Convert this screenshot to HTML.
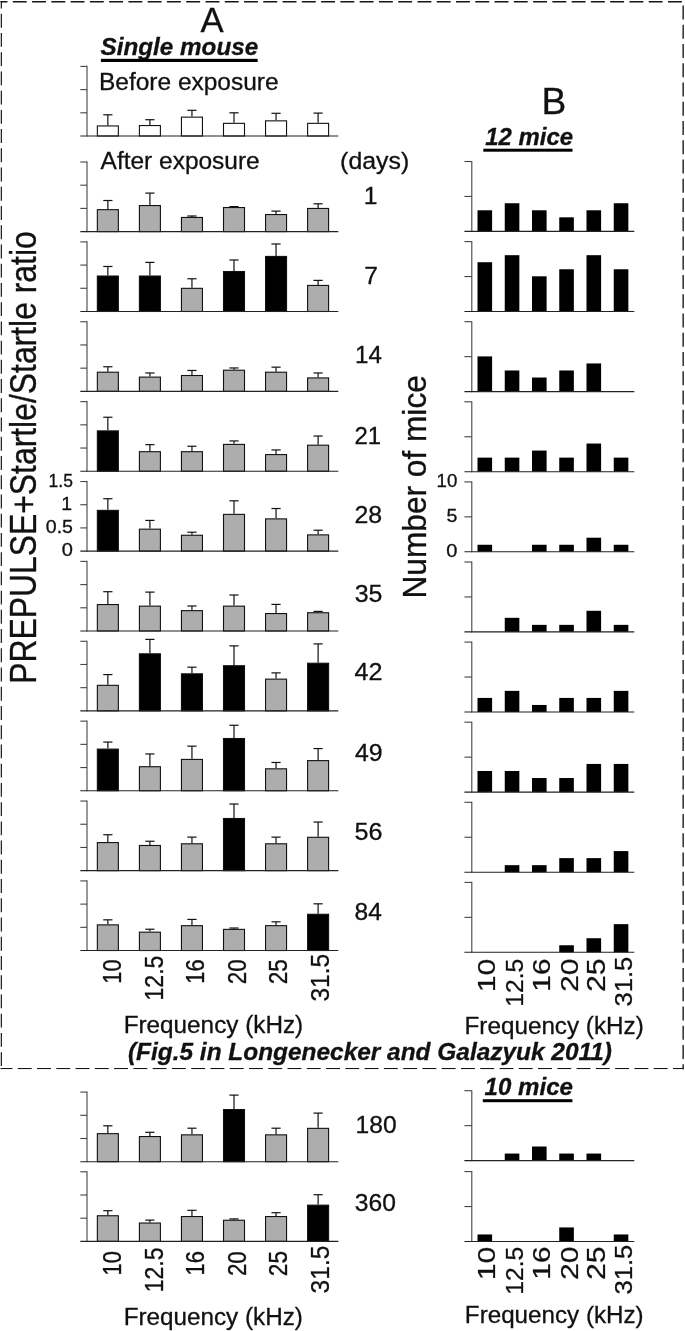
<!DOCTYPE html>
<html><head><meta charset="utf-8"><title>Figure</title>
<style>html,body{margin:0;padding:0;background:#fff}svg{display:block}</style></head>
<body><svg width="685" height="1331" viewBox="0 0 685 1331" font-family="'Liberation Sans', sans-serif" fill="#111" stroke="#111" stroke-width="0.3"><clipPath id="bc"><rect x="0.5" y="1" width="683.4" height="1068.3"/></clipPath><g clip-path="url(#bc)">
<line x1="-6.47" y1="1.75" x2="700.00" y2="1.75" stroke="#151515" stroke-width="1.45" stroke-dasharray="13.9 5.37"/>
<line x1="1.20" y1="-5.50" x2="1.20" y2="1100.00" stroke="#151515" stroke-width="1.45" stroke-dasharray="13.9 5.33"/>
<line x1="-1.50" y1="1068.60" x2="700.00" y2="1068.60" stroke="#151515" stroke-width="1.45" stroke-dasharray="13.9 5.37"/>
<line x1="683.20" y1="-13.75" x2="683.20" y2="1100.00" stroke="#151515" stroke-width="1.45" stroke-dasharray="13.9 5.35"/>
</g>
<line x1="107.85" y1="114.80" x2="107.85" y2="125.40" stroke="#111" stroke-width="1.2"/>
<line x1="103.25" y1="114.80" x2="112.45" y2="114.80" stroke="#111" stroke-width="1.2"/>
<rect x="97.35" y="125.95" width="21.00" height="10.05" fill="#fff" stroke="#111" stroke-width="1.1"/>
<line x1="149.90" y1="119.70" x2="149.90" y2="125.00" stroke="#111" stroke-width="1.2"/>
<line x1="145.30" y1="119.70" x2="154.50" y2="119.70" stroke="#111" stroke-width="1.2"/>
<rect x="139.40" y="125.55" width="21.00" height="10.45" fill="#fff" stroke="#111" stroke-width="1.1"/>
<line x1="191.95" y1="110.30" x2="191.95" y2="116.60" stroke="#111" stroke-width="1.2"/>
<line x1="187.35" y1="110.30" x2="196.55" y2="110.30" stroke="#111" stroke-width="1.2"/>
<rect x="181.45" y="117.15" width="21.00" height="18.85" fill="#fff" stroke="#111" stroke-width="1.1"/>
<line x1="234.00" y1="112.80" x2="234.00" y2="122.80" stroke="#111" stroke-width="1.2"/>
<line x1="229.40" y1="112.80" x2="238.60" y2="112.80" stroke="#111" stroke-width="1.2"/>
<rect x="223.50" y="123.35" width="21.00" height="12.65" fill="#fff" stroke="#111" stroke-width="1.1"/>
<line x1="276.05" y1="113.30" x2="276.05" y2="120.30" stroke="#111" stroke-width="1.2"/>
<line x1="271.45" y1="113.30" x2="280.65" y2="113.30" stroke="#111" stroke-width="1.2"/>
<rect x="265.55" y="120.85" width="21.00" height="15.15" fill="#fff" stroke="#111" stroke-width="1.1"/>
<line x1="318.10" y1="113.10" x2="318.10" y2="122.80" stroke="#111" stroke-width="1.2"/>
<line x1="313.50" y1="113.10" x2="322.70" y2="113.10" stroke="#111" stroke-width="1.2"/>
<rect x="307.60" y="123.35" width="21.00" height="12.65" fill="#fff" stroke="#111" stroke-width="1.1"/>
<line x1="87.00" y1="65.85" x2="87.00" y2="136.55" stroke="#444" stroke-width="1.1"/>
<line x1="80.30" y1="136.00" x2="338.30" y2="136.00" stroke="#222" stroke-width="1.1"/>
<line x1="80.30" y1="112.80" x2="87.00" y2="112.80" stroke="#444" stroke-width="1.1"/>
<line x1="80.30" y1="89.60" x2="87.00" y2="89.60" stroke="#444" stroke-width="1.1"/>
<line x1="80.30" y1="66.40" x2="87.00" y2="66.40" stroke="#444" stroke-width="1.1"/>
<line x1="107.85" y1="200.50" x2="107.85" y2="209.10" stroke="#111" stroke-width="1.2"/>
<line x1="103.25" y1="200.50" x2="112.45" y2="200.50" stroke="#111" stroke-width="1.2"/>
<rect x="97.35" y="209.65" width="21.00" height="21.95" fill="#adadad" stroke="#111" stroke-width="1.1"/>
<line x1="149.90" y1="193.10" x2="149.90" y2="205.00" stroke="#111" stroke-width="1.2"/>
<line x1="145.30" y1="193.10" x2="154.50" y2="193.10" stroke="#111" stroke-width="1.2"/>
<rect x="139.40" y="205.55" width="21.00" height="26.05" fill="#adadad" stroke="#111" stroke-width="1.1"/>
<line x1="191.95" y1="216.00" x2="191.95" y2="216.90" stroke="#111" stroke-width="1.2"/>
<line x1="187.35" y1="216.00" x2="196.55" y2="216.00" stroke="#111" stroke-width="1.2"/>
<rect x="181.45" y="217.45" width="21.00" height="14.15" fill="#adadad" stroke="#111" stroke-width="1.1"/>
<line x1="234.00" y1="206.60" x2="234.00" y2="207.00" stroke="#111" stroke-width="1.2"/>
<line x1="229.40" y1="206.60" x2="238.60" y2="206.60" stroke="#111" stroke-width="1.2"/>
<rect x="223.50" y="207.55" width="21.00" height="24.05" fill="#adadad" stroke="#111" stroke-width="1.1"/>
<line x1="276.05" y1="211.10" x2="276.05" y2="214.00" stroke="#111" stroke-width="1.2"/>
<line x1="271.45" y1="211.10" x2="280.65" y2="211.10" stroke="#111" stroke-width="1.2"/>
<rect x="265.55" y="214.55" width="21.00" height="17.05" fill="#adadad" stroke="#111" stroke-width="1.1"/>
<line x1="318.10" y1="203.80" x2="318.10" y2="207.90" stroke="#111" stroke-width="1.2"/>
<line x1="313.50" y1="203.80" x2="322.70" y2="203.80" stroke="#111" stroke-width="1.2"/>
<rect x="307.60" y="208.45" width="21.00" height="23.15" fill="#adadad" stroke="#111" stroke-width="1.1"/>
<line x1="87.00" y1="161.45" x2="87.00" y2="232.15" stroke="#444" stroke-width="1.1"/>
<line x1="80.30" y1="231.60" x2="338.30" y2="231.60" stroke="#222" stroke-width="1.1"/>
<line x1="80.30" y1="208.40" x2="87.00" y2="208.40" stroke="#444" stroke-width="1.1"/>
<line x1="80.30" y1="185.20" x2="87.00" y2="185.20" stroke="#444" stroke-width="1.1"/>
<line x1="80.30" y1="162.00" x2="87.00" y2="162.00" stroke="#444" stroke-width="1.1"/>
<line x1="107.85" y1="266.48" x2="107.85" y2="275.48" stroke="#111" stroke-width="1.2"/>
<line x1="103.25" y1="266.48" x2="112.45" y2="266.48" stroke="#111" stroke-width="1.2"/>
<rect x="97.35" y="276.03" width="21.00" height="35.45" fill="#000" stroke="#111" stroke-width="1.1"/>
<line x1="149.90" y1="262.38" x2="149.90" y2="275.48" stroke="#111" stroke-width="1.2"/>
<line x1="145.30" y1="262.38" x2="154.50" y2="262.38" stroke="#111" stroke-width="1.2"/>
<rect x="139.40" y="276.03" width="21.00" height="35.45" fill="#000" stroke="#111" stroke-width="1.1"/>
<line x1="191.95" y1="278.78" x2="191.95" y2="287.78" stroke="#111" stroke-width="1.2"/>
<line x1="187.35" y1="278.78" x2="196.55" y2="278.78" stroke="#111" stroke-width="1.2"/>
<rect x="181.45" y="288.33" width="21.00" height="23.15" fill="#adadad" stroke="#111" stroke-width="1.1"/>
<line x1="234.00" y1="259.98" x2="234.00" y2="270.98" stroke="#111" stroke-width="1.2"/>
<line x1="229.40" y1="259.98" x2="238.60" y2="259.98" stroke="#111" stroke-width="1.2"/>
<rect x="223.50" y="271.53" width="21.00" height="39.95" fill="#000" stroke="#111" stroke-width="1.1"/>
<line x1="276.05" y1="243.98" x2="276.05" y2="255.88" stroke="#111" stroke-width="1.2"/>
<line x1="271.45" y1="243.98" x2="280.65" y2="243.98" stroke="#111" stroke-width="1.2"/>
<rect x="265.55" y="256.43" width="21.00" height="55.05" fill="#000" stroke="#111" stroke-width="1.1"/>
<line x1="318.10" y1="280.38" x2="318.10" y2="284.88" stroke="#111" stroke-width="1.2"/>
<line x1="313.50" y1="280.38" x2="322.70" y2="280.38" stroke="#111" stroke-width="1.2"/>
<rect x="307.60" y="285.43" width="21.00" height="26.05" fill="#adadad" stroke="#111" stroke-width="1.1"/>
<line x1="87.00" y1="241.33" x2="87.00" y2="312.03" stroke="#444" stroke-width="1.1"/>
<line x1="80.30" y1="311.48" x2="338.30" y2="311.48" stroke="#222" stroke-width="1.1"/>
<line x1="80.30" y1="288.28" x2="87.00" y2="288.28" stroke="#444" stroke-width="1.1"/>
<line x1="80.30" y1="265.08" x2="87.00" y2="265.08" stroke="#444" stroke-width="1.1"/>
<line x1="80.30" y1="241.88" x2="87.00" y2="241.88" stroke="#444" stroke-width="1.1"/>
<line x1="107.85" y1="366.76" x2="107.85" y2="371.66" stroke="#111" stroke-width="1.2"/>
<line x1="103.25" y1="366.76" x2="112.45" y2="366.76" stroke="#111" stroke-width="1.2"/>
<rect x="97.35" y="372.21" width="21.00" height="19.15" fill="#adadad" stroke="#111" stroke-width="1.1"/>
<line x1="149.90" y1="372.96" x2="149.90" y2="376.56" stroke="#111" stroke-width="1.2"/>
<line x1="145.30" y1="372.96" x2="154.50" y2="372.96" stroke="#111" stroke-width="1.2"/>
<rect x="139.40" y="377.11" width="21.00" height="14.25" fill="#adadad" stroke="#111" stroke-width="1.1"/>
<line x1="191.95" y1="370.46" x2="191.95" y2="374.96" stroke="#111" stroke-width="1.2"/>
<line x1="187.35" y1="370.46" x2="196.55" y2="370.46" stroke="#111" stroke-width="1.2"/>
<rect x="181.45" y="375.51" width="21.00" height="15.85" fill="#adadad" stroke="#111" stroke-width="1.1"/>
<line x1="234.00" y1="367.96" x2="234.00" y2="369.66" stroke="#111" stroke-width="1.2"/>
<line x1="229.40" y1="367.96" x2="238.60" y2="367.96" stroke="#111" stroke-width="1.2"/>
<rect x="223.50" y="370.21" width="21.00" height="21.15" fill="#adadad" stroke="#111" stroke-width="1.1"/>
<line x1="276.05" y1="367.16" x2="276.05" y2="371.66" stroke="#111" stroke-width="1.2"/>
<line x1="271.45" y1="367.16" x2="280.65" y2="367.16" stroke="#111" stroke-width="1.2"/>
<rect x="265.55" y="372.21" width="21.00" height="19.15" fill="#adadad" stroke="#111" stroke-width="1.1"/>
<line x1="318.10" y1="372.96" x2="318.10" y2="377.36" stroke="#111" stroke-width="1.2"/>
<line x1="313.50" y1="372.96" x2="322.70" y2="372.96" stroke="#111" stroke-width="1.2"/>
<rect x="307.60" y="377.91" width="21.00" height="13.45" fill="#adadad" stroke="#111" stroke-width="1.1"/>
<line x1="87.00" y1="321.21" x2="87.00" y2="391.91" stroke="#444" stroke-width="1.1"/>
<line x1="80.30" y1="391.36" x2="338.30" y2="391.36" stroke="#222" stroke-width="1.1"/>
<line x1="80.30" y1="368.16" x2="87.00" y2="368.16" stroke="#444" stroke-width="1.1"/>
<line x1="80.30" y1="344.96" x2="87.00" y2="344.96" stroke="#444" stroke-width="1.1"/>
<line x1="80.30" y1="321.76" x2="87.00" y2="321.76" stroke="#444" stroke-width="1.1"/>
<line x1="107.85" y1="417.24" x2="107.85" y2="430.34" stroke="#111" stroke-width="1.2"/>
<line x1="103.25" y1="417.24" x2="112.45" y2="417.24" stroke="#111" stroke-width="1.2"/>
<rect x="97.35" y="430.89" width="21.00" height="40.35" fill="#000" stroke="#111" stroke-width="1.1"/>
<line x1="149.90" y1="444.64" x2="149.90" y2="451.14" stroke="#111" stroke-width="1.2"/>
<line x1="145.30" y1="444.64" x2="154.50" y2="444.64" stroke="#111" stroke-width="1.2"/>
<rect x="139.40" y="451.69" width="21.00" height="19.55" fill="#adadad" stroke="#111" stroke-width="1.1"/>
<line x1="191.95" y1="446.24" x2="191.95" y2="451.14" stroke="#111" stroke-width="1.2"/>
<line x1="187.35" y1="446.24" x2="196.55" y2="446.24" stroke="#111" stroke-width="1.2"/>
<rect x="181.45" y="451.69" width="21.00" height="19.55" fill="#adadad" stroke="#111" stroke-width="1.1"/>
<line x1="234.00" y1="440.94" x2="234.00" y2="443.84" stroke="#111" stroke-width="1.2"/>
<line x1="229.40" y1="440.94" x2="238.60" y2="440.94" stroke="#111" stroke-width="1.2"/>
<rect x="223.50" y="444.39" width="21.00" height="26.85" fill="#adadad" stroke="#111" stroke-width="1.1"/>
<line x1="276.05" y1="449.94" x2="276.05" y2="454.04" stroke="#111" stroke-width="1.2"/>
<line x1="271.45" y1="449.94" x2="280.65" y2="449.94" stroke="#111" stroke-width="1.2"/>
<rect x="265.55" y="454.59" width="21.00" height="16.65" fill="#adadad" stroke="#111" stroke-width="1.1"/>
<line x1="318.10" y1="436.04" x2="318.10" y2="444.64" stroke="#111" stroke-width="1.2"/>
<line x1="313.50" y1="436.04" x2="322.70" y2="436.04" stroke="#111" stroke-width="1.2"/>
<rect x="307.60" y="445.19" width="21.00" height="26.05" fill="#adadad" stroke="#111" stroke-width="1.1"/>
<line x1="87.00" y1="401.09" x2="87.00" y2="471.79" stroke="#444" stroke-width="1.1"/>
<line x1="80.30" y1="471.24" x2="338.30" y2="471.24" stroke="#222" stroke-width="1.1"/>
<line x1="80.30" y1="448.04" x2="87.00" y2="448.04" stroke="#444" stroke-width="1.1"/>
<line x1="80.30" y1="424.84" x2="87.00" y2="424.84" stroke="#444" stroke-width="1.1"/>
<line x1="80.30" y1="401.64" x2="87.00" y2="401.64" stroke="#444" stroke-width="1.1"/>
<line x1="107.85" y1="498.72" x2="107.85" y2="509.82" stroke="#111" stroke-width="1.2"/>
<line x1="103.25" y1="498.72" x2="112.45" y2="498.72" stroke="#111" stroke-width="1.2"/>
<rect x="97.35" y="510.37" width="21.00" height="40.75" fill="#000" stroke="#111" stroke-width="1.1"/>
<line x1="149.90" y1="520.42" x2="149.90" y2="528.62" stroke="#111" stroke-width="1.2"/>
<line x1="145.30" y1="520.42" x2="154.50" y2="520.42" stroke="#111" stroke-width="1.2"/>
<rect x="139.40" y="529.17" width="21.00" height="21.95" fill="#adadad" stroke="#111" stroke-width="1.1"/>
<line x1="191.95" y1="532.22" x2="191.95" y2="534.72" stroke="#111" stroke-width="1.2"/>
<line x1="187.35" y1="532.22" x2="196.55" y2="532.22" stroke="#111" stroke-width="1.2"/>
<rect x="181.45" y="535.27" width="21.00" height="15.85" fill="#adadad" stroke="#111" stroke-width="1.1"/>
<line x1="234.00" y1="500.82" x2="234.00" y2="513.82" stroke="#111" stroke-width="1.2"/>
<line x1="229.40" y1="500.82" x2="238.60" y2="500.82" stroke="#111" stroke-width="1.2"/>
<rect x="223.50" y="514.37" width="21.00" height="36.75" fill="#adadad" stroke="#111" stroke-width="1.1"/>
<line x1="276.05" y1="508.52" x2="276.05" y2="518.32" stroke="#111" stroke-width="1.2"/>
<line x1="271.45" y1="508.52" x2="280.65" y2="508.52" stroke="#111" stroke-width="1.2"/>
<rect x="265.55" y="518.87" width="21.00" height="32.25" fill="#adadad" stroke="#111" stroke-width="1.1"/>
<line x1="318.10" y1="530.22" x2="318.10" y2="534.32" stroke="#111" stroke-width="1.2"/>
<line x1="313.50" y1="530.22" x2="322.70" y2="530.22" stroke="#111" stroke-width="1.2"/>
<rect x="307.60" y="534.87" width="21.00" height="16.25" fill="#adadad" stroke="#111" stroke-width="1.1"/>
<line x1="87.00" y1="480.97" x2="87.00" y2="551.67" stroke="#444" stroke-width="1.1"/>
<line x1="80.30" y1="551.12" x2="338.30" y2="551.12" stroke="#222" stroke-width="1.1"/>
<line x1="80.30" y1="527.92" x2="87.00" y2="527.92" stroke="#444" stroke-width="1.1"/>
<line x1="80.30" y1="504.72" x2="87.00" y2="504.72" stroke="#444" stroke-width="1.1"/>
<line x1="80.30" y1="481.52" x2="87.00" y2="481.52" stroke="#444" stroke-width="1.1"/>
<line x1="107.85" y1="591.70" x2="107.85" y2="604.00" stroke="#111" stroke-width="1.2"/>
<line x1="103.25" y1="591.70" x2="112.45" y2="591.70" stroke="#111" stroke-width="1.2"/>
<rect x="97.35" y="604.55" width="21.00" height="26.45" fill="#adadad" stroke="#111" stroke-width="1.1"/>
<line x1="149.90" y1="592.10" x2="149.90" y2="605.60" stroke="#111" stroke-width="1.2"/>
<line x1="145.30" y1="592.10" x2="154.50" y2="592.10" stroke="#111" stroke-width="1.2"/>
<rect x="139.40" y="606.15" width="21.00" height="24.85" fill="#adadad" stroke="#111" stroke-width="1.1"/>
<line x1="191.95" y1="606.00" x2="191.95" y2="610.10" stroke="#111" stroke-width="1.2"/>
<line x1="187.35" y1="606.00" x2="196.55" y2="606.00" stroke="#111" stroke-width="1.2"/>
<rect x="181.45" y="610.65" width="21.00" height="20.35" fill="#adadad" stroke="#111" stroke-width="1.1"/>
<line x1="234.00" y1="595.00" x2="234.00" y2="605.60" stroke="#111" stroke-width="1.2"/>
<line x1="229.40" y1="595.00" x2="238.60" y2="595.00" stroke="#111" stroke-width="1.2"/>
<rect x="223.50" y="606.15" width="21.00" height="24.85" fill="#adadad" stroke="#111" stroke-width="1.1"/>
<line x1="276.05" y1="604.40" x2="276.05" y2="613.00" stroke="#111" stroke-width="1.2"/>
<line x1="271.45" y1="604.40" x2="280.65" y2="604.40" stroke="#111" stroke-width="1.2"/>
<rect x="265.55" y="613.55" width="21.00" height="17.45" fill="#adadad" stroke="#111" stroke-width="1.1"/>
<line x1="318.10" y1="611.40" x2="318.10" y2="612.20" stroke="#111" stroke-width="1.2"/>
<line x1="313.50" y1="611.40" x2="322.70" y2="611.40" stroke="#111" stroke-width="1.2"/>
<rect x="307.60" y="612.75" width="21.00" height="18.25" fill="#adadad" stroke="#111" stroke-width="1.1"/>
<line x1="87.00" y1="560.85" x2="87.00" y2="631.55" stroke="#444" stroke-width="1.1"/>
<line x1="80.30" y1="631.00" x2="338.30" y2="631.00" stroke="#222" stroke-width="1.1"/>
<line x1="80.30" y1="607.80" x2="87.00" y2="607.80" stroke="#444" stroke-width="1.1"/>
<line x1="80.30" y1="584.60" x2="87.00" y2="584.60" stroke="#444" stroke-width="1.1"/>
<line x1="80.30" y1="561.40" x2="87.00" y2="561.40" stroke="#444" stroke-width="1.1"/>
<line x1="107.85" y1="674.58" x2="107.85" y2="684.78" stroke="#111" stroke-width="1.2"/>
<line x1="103.25" y1="674.58" x2="112.45" y2="674.58" stroke="#111" stroke-width="1.2"/>
<rect x="97.35" y="685.33" width="21.00" height="25.55" fill="#adadad" stroke="#111" stroke-width="1.1"/>
<line x1="149.90" y1="639.38" x2="149.90" y2="653.28" stroke="#111" stroke-width="1.2"/>
<line x1="145.30" y1="639.38" x2="154.50" y2="639.38" stroke="#111" stroke-width="1.2"/>
<rect x="139.40" y="653.83" width="21.00" height="57.05" fill="#000" stroke="#111" stroke-width="1.1"/>
<line x1="191.95" y1="667.18" x2="191.95" y2="673.28" stroke="#111" stroke-width="1.2"/>
<line x1="187.35" y1="667.18" x2="196.55" y2="667.18" stroke="#111" stroke-width="1.2"/>
<rect x="181.45" y="673.83" width="21.00" height="37.05" fill="#000" stroke="#111" stroke-width="1.1"/>
<line x1="234.00" y1="645.88" x2="234.00" y2="665.18" stroke="#111" stroke-width="1.2"/>
<line x1="229.40" y1="645.88" x2="238.60" y2="645.88" stroke="#111" stroke-width="1.2"/>
<rect x="223.50" y="665.73" width="21.00" height="45.15" fill="#000" stroke="#111" stroke-width="1.1"/>
<line x1="276.05" y1="672.88" x2="276.05" y2="678.58" stroke="#111" stroke-width="1.2"/>
<line x1="271.45" y1="672.88" x2="280.65" y2="672.88" stroke="#111" stroke-width="1.2"/>
<rect x="265.55" y="679.13" width="21.00" height="31.75" fill="#adadad" stroke="#111" stroke-width="1.1"/>
<line x1="318.10" y1="643.88" x2="318.10" y2="662.68" stroke="#111" stroke-width="1.2"/>
<line x1="313.50" y1="643.88" x2="322.70" y2="643.88" stroke="#111" stroke-width="1.2"/>
<rect x="307.60" y="663.23" width="21.00" height="47.65" fill="#000" stroke="#111" stroke-width="1.1"/>
<line x1="87.00" y1="640.73" x2="87.00" y2="711.43" stroke="#444" stroke-width="1.1"/>
<line x1="80.30" y1="710.88" x2="338.30" y2="710.88" stroke="#222" stroke-width="1.1"/>
<line x1="80.30" y1="687.68" x2="87.00" y2="687.68" stroke="#444" stroke-width="1.1"/>
<line x1="80.30" y1="664.48" x2="87.00" y2="664.48" stroke="#444" stroke-width="1.1"/>
<line x1="80.30" y1="641.28" x2="87.00" y2="641.28" stroke="#444" stroke-width="1.1"/>
<line x1="107.85" y1="742.06" x2="107.85" y2="748.56" stroke="#111" stroke-width="1.2"/>
<line x1="103.25" y1="742.06" x2="112.45" y2="742.06" stroke="#111" stroke-width="1.2"/>
<rect x="97.35" y="749.11" width="21.00" height="41.65" fill="#000" stroke="#111" stroke-width="1.1"/>
<line x1="149.90" y1="753.96" x2="149.90" y2="766.16" stroke="#111" stroke-width="1.2"/>
<line x1="145.30" y1="753.96" x2="154.50" y2="753.96" stroke="#111" stroke-width="1.2"/>
<rect x="139.40" y="766.71" width="21.00" height="24.05" fill="#adadad" stroke="#111" stroke-width="1.1"/>
<line x1="191.95" y1="746.16" x2="191.95" y2="758.86" stroke="#111" stroke-width="1.2"/>
<line x1="187.35" y1="746.16" x2="196.55" y2="746.16" stroke="#111" stroke-width="1.2"/>
<rect x="181.45" y="759.41" width="21.00" height="31.35" fill="#adadad" stroke="#111" stroke-width="1.1"/>
<line x1="234.00" y1="725.26" x2="234.00" y2="737.96" stroke="#111" stroke-width="1.2"/>
<line x1="229.40" y1="725.26" x2="238.60" y2="725.26" stroke="#111" stroke-width="1.2"/>
<rect x="223.50" y="738.51" width="21.00" height="52.25" fill="#000" stroke="#111" stroke-width="1.1"/>
<line x1="276.05" y1="762.46" x2="276.05" y2="768.26" stroke="#111" stroke-width="1.2"/>
<line x1="271.45" y1="762.46" x2="280.65" y2="762.46" stroke="#111" stroke-width="1.2"/>
<rect x="265.55" y="768.81" width="21.00" height="21.95" fill="#adadad" stroke="#111" stroke-width="1.1"/>
<line x1="318.10" y1="748.56" x2="318.10" y2="760.06" stroke="#111" stroke-width="1.2"/>
<line x1="313.50" y1="748.56" x2="322.70" y2="748.56" stroke="#111" stroke-width="1.2"/>
<rect x="307.60" y="760.61" width="21.00" height="30.15" fill="#adadad" stroke="#111" stroke-width="1.1"/>
<line x1="87.00" y1="720.61" x2="87.00" y2="791.31" stroke="#444" stroke-width="1.1"/>
<line x1="80.30" y1="790.76" x2="338.30" y2="790.76" stroke="#222" stroke-width="1.1"/>
<line x1="80.30" y1="767.56" x2="87.00" y2="767.56" stroke="#444" stroke-width="1.1"/>
<line x1="80.30" y1="744.36" x2="87.00" y2="744.36" stroke="#444" stroke-width="1.1"/>
<line x1="80.30" y1="721.16" x2="87.00" y2="721.16" stroke="#444" stroke-width="1.1"/>
<line x1="107.85" y1="834.74" x2="107.85" y2="842.04" stroke="#111" stroke-width="1.2"/>
<line x1="103.25" y1="834.74" x2="112.45" y2="834.74" stroke="#111" stroke-width="1.2"/>
<rect x="97.35" y="842.59" width="21.00" height="28.05" fill="#adadad" stroke="#111" stroke-width="1.1"/>
<line x1="149.90" y1="841.24" x2="149.90" y2="844.94" stroke="#111" stroke-width="1.2"/>
<line x1="145.30" y1="841.24" x2="154.50" y2="841.24" stroke="#111" stroke-width="1.2"/>
<rect x="139.40" y="845.49" width="21.00" height="25.15" fill="#adadad" stroke="#111" stroke-width="1.1"/>
<line x1="191.95" y1="837.14" x2="191.95" y2="843.24" stroke="#111" stroke-width="1.2"/>
<line x1="187.35" y1="837.14" x2="196.55" y2="837.14" stroke="#111" stroke-width="1.2"/>
<rect x="181.45" y="843.79" width="21.00" height="26.85" fill="#adadad" stroke="#111" stroke-width="1.1"/>
<line x1="234.00" y1="804.04" x2="234.00" y2="817.94" stroke="#111" stroke-width="1.2"/>
<line x1="229.40" y1="804.04" x2="238.60" y2="804.04" stroke="#111" stroke-width="1.2"/>
<rect x="223.50" y="818.49" width="21.00" height="52.15" fill="#000" stroke="#111" stroke-width="1.1"/>
<line x1="276.05" y1="837.14" x2="276.05" y2="843.24" stroke="#111" stroke-width="1.2"/>
<line x1="271.45" y1="837.14" x2="280.65" y2="837.14" stroke="#111" stroke-width="1.2"/>
<rect x="265.55" y="843.79" width="21.00" height="26.85" fill="#adadad" stroke="#111" stroke-width="1.1"/>
<line x1="318.10" y1="822.04" x2="318.10" y2="836.74" stroke="#111" stroke-width="1.2"/>
<line x1="313.50" y1="822.04" x2="322.70" y2="822.04" stroke="#111" stroke-width="1.2"/>
<rect x="307.60" y="837.29" width="21.00" height="33.35" fill="#adadad" stroke="#111" stroke-width="1.1"/>
<line x1="87.00" y1="800.49" x2="87.00" y2="871.19" stroke="#444" stroke-width="1.1"/>
<line x1="80.30" y1="870.64" x2="338.30" y2="870.64" stroke="#222" stroke-width="1.1"/>
<line x1="80.30" y1="847.44" x2="87.00" y2="847.44" stroke="#444" stroke-width="1.1"/>
<line x1="80.30" y1="824.24" x2="87.00" y2="824.24" stroke="#444" stroke-width="1.1"/>
<line x1="80.30" y1="801.04" x2="87.00" y2="801.04" stroke="#444" stroke-width="1.1"/>
<line x1="107.85" y1="919.82" x2="107.85" y2="924.32" stroke="#111" stroke-width="1.2"/>
<line x1="103.25" y1="919.82" x2="112.45" y2="919.82" stroke="#111" stroke-width="1.2"/>
<rect x="97.35" y="924.87" width="21.00" height="25.65" fill="#adadad" stroke="#111" stroke-width="1.1"/>
<line x1="149.90" y1="929.22" x2="149.90" y2="931.62" stroke="#111" stroke-width="1.2"/>
<line x1="145.30" y1="929.22" x2="154.50" y2="929.22" stroke="#111" stroke-width="1.2"/>
<rect x="139.40" y="932.17" width="21.00" height="18.35" fill="#adadad" stroke="#111" stroke-width="1.1"/>
<line x1="191.95" y1="919.42" x2="191.95" y2="925.12" stroke="#111" stroke-width="1.2"/>
<line x1="187.35" y1="919.42" x2="196.55" y2="919.42" stroke="#111" stroke-width="1.2"/>
<rect x="181.45" y="925.67" width="21.00" height="24.85" fill="#adadad" stroke="#111" stroke-width="1.1"/>
<line x1="234.00" y1="928.02" x2="234.00" y2="928.82" stroke="#111" stroke-width="1.2"/>
<line x1="229.40" y1="928.02" x2="238.60" y2="928.02" stroke="#111" stroke-width="1.2"/>
<rect x="223.50" y="929.37" width="21.00" height="21.15" fill="#adadad" stroke="#111" stroke-width="1.1"/>
<line x1="276.05" y1="921.82" x2="276.05" y2="925.12" stroke="#111" stroke-width="1.2"/>
<line x1="271.45" y1="921.82" x2="280.65" y2="921.82" stroke="#111" stroke-width="1.2"/>
<rect x="265.55" y="925.67" width="21.00" height="24.85" fill="#adadad" stroke="#111" stroke-width="1.1"/>
<line x1="318.10" y1="903.82" x2="318.10" y2="913.72" stroke="#111" stroke-width="1.2"/>
<line x1="313.50" y1="903.82" x2="322.70" y2="903.82" stroke="#111" stroke-width="1.2"/>
<rect x="307.60" y="914.27" width="21.00" height="36.25" fill="#000" stroke="#111" stroke-width="1.1"/>
<line x1="87.00" y1="880.37" x2="87.00" y2="951.07" stroke="#444" stroke-width="1.1"/>
<line x1="80.30" y1="950.52" x2="338.30" y2="950.52" stroke="#222" stroke-width="1.1"/>
<line x1="80.30" y1="927.32" x2="87.00" y2="927.32" stroke="#444" stroke-width="1.1"/>
<line x1="80.30" y1="904.12" x2="87.00" y2="904.12" stroke="#444" stroke-width="1.1"/>
<line x1="80.30" y1="880.92" x2="87.00" y2="880.92" stroke="#444" stroke-width="1.1"/>
<line x1="107.85" y1="1125.80" x2="107.85" y2="1133.10" stroke="#111" stroke-width="1.2"/>
<line x1="103.25" y1="1125.80" x2="112.45" y2="1125.80" stroke="#111" stroke-width="1.2"/>
<rect x="97.35" y="1133.65" width="21.00" height="28.05" fill="#adadad" stroke="#111" stroke-width="1.1"/>
<line x1="149.90" y1="1132.30" x2="149.90" y2="1136.00" stroke="#111" stroke-width="1.2"/>
<line x1="145.30" y1="1132.30" x2="154.50" y2="1132.30" stroke="#111" stroke-width="1.2"/>
<rect x="139.40" y="1136.55" width="21.00" height="25.15" fill="#adadad" stroke="#111" stroke-width="1.1"/>
<line x1="191.95" y1="1128.20" x2="191.95" y2="1134.30" stroke="#111" stroke-width="1.2"/>
<line x1="187.35" y1="1128.20" x2="196.55" y2="1128.20" stroke="#111" stroke-width="1.2"/>
<rect x="181.45" y="1134.85" width="21.00" height="26.85" fill="#adadad" stroke="#111" stroke-width="1.1"/>
<line x1="234.00" y1="1095.10" x2="234.00" y2="1109.00" stroke="#111" stroke-width="1.2"/>
<line x1="229.40" y1="1095.10" x2="238.60" y2="1095.10" stroke="#111" stroke-width="1.2"/>
<rect x="223.50" y="1109.55" width="21.00" height="52.15" fill="#000" stroke="#111" stroke-width="1.1"/>
<line x1="276.05" y1="1128.20" x2="276.05" y2="1134.30" stroke="#111" stroke-width="1.2"/>
<line x1="271.45" y1="1128.20" x2="280.65" y2="1128.20" stroke="#111" stroke-width="1.2"/>
<rect x="265.55" y="1134.85" width="21.00" height="26.85" fill="#adadad" stroke="#111" stroke-width="1.1"/>
<line x1="318.10" y1="1113.10" x2="318.10" y2="1127.80" stroke="#111" stroke-width="1.2"/>
<line x1="313.50" y1="1113.10" x2="322.70" y2="1113.10" stroke="#111" stroke-width="1.2"/>
<rect x="307.60" y="1128.35" width="21.00" height="33.35" fill="#adadad" stroke="#111" stroke-width="1.1"/>
<line x1="87.00" y1="1091.55" x2="87.00" y2="1162.25" stroke="#444" stroke-width="1.1"/>
<line x1="80.30" y1="1161.70" x2="338.30" y2="1161.70" stroke="#222" stroke-width="1.1"/>
<line x1="80.30" y1="1138.50" x2="87.00" y2="1138.50" stroke="#444" stroke-width="1.1"/>
<line x1="80.30" y1="1115.30" x2="87.00" y2="1115.30" stroke="#444" stroke-width="1.1"/>
<line x1="80.30" y1="1092.10" x2="87.00" y2="1092.10" stroke="#444" stroke-width="1.1"/>
<line x1="107.85" y1="1210.70" x2="107.85" y2="1215.20" stroke="#111" stroke-width="1.2"/>
<line x1="103.25" y1="1210.70" x2="112.45" y2="1210.70" stroke="#111" stroke-width="1.2"/>
<rect x="97.35" y="1215.75" width="21.00" height="25.65" fill="#adadad" stroke="#111" stroke-width="1.1"/>
<line x1="149.90" y1="1220.10" x2="149.90" y2="1222.50" stroke="#111" stroke-width="1.2"/>
<line x1="145.30" y1="1220.10" x2="154.50" y2="1220.10" stroke="#111" stroke-width="1.2"/>
<rect x="139.40" y="1223.05" width="21.00" height="18.35" fill="#adadad" stroke="#111" stroke-width="1.1"/>
<line x1="191.95" y1="1210.30" x2="191.95" y2="1216.00" stroke="#111" stroke-width="1.2"/>
<line x1="187.35" y1="1210.30" x2="196.55" y2="1210.30" stroke="#111" stroke-width="1.2"/>
<rect x="181.45" y="1216.55" width="21.00" height="24.85" fill="#adadad" stroke="#111" stroke-width="1.1"/>
<line x1="234.00" y1="1218.90" x2="234.00" y2="1219.70" stroke="#111" stroke-width="1.2"/>
<line x1="229.40" y1="1218.90" x2="238.60" y2="1218.90" stroke="#111" stroke-width="1.2"/>
<rect x="223.50" y="1220.25" width="21.00" height="21.15" fill="#adadad" stroke="#111" stroke-width="1.1"/>
<line x1="276.05" y1="1212.70" x2="276.05" y2="1216.00" stroke="#111" stroke-width="1.2"/>
<line x1="271.45" y1="1212.70" x2="280.65" y2="1212.70" stroke="#111" stroke-width="1.2"/>
<rect x="265.55" y="1216.55" width="21.00" height="24.85" fill="#adadad" stroke="#111" stroke-width="1.1"/>
<line x1="318.10" y1="1194.70" x2="318.10" y2="1204.60" stroke="#111" stroke-width="1.2"/>
<line x1="313.50" y1="1194.70" x2="322.70" y2="1194.70" stroke="#111" stroke-width="1.2"/>
<rect x="307.60" y="1205.15" width="21.00" height="36.25" fill="#000" stroke="#111" stroke-width="1.1"/>
<line x1="87.00" y1="1171.25" x2="87.00" y2="1241.95" stroke="#444" stroke-width="1.1"/>
<line x1="80.30" y1="1241.40" x2="338.30" y2="1241.40" stroke="#222" stroke-width="1.1"/>
<line x1="80.30" y1="1218.20" x2="87.00" y2="1218.20" stroke="#444" stroke-width="1.1"/>
<line x1="80.30" y1="1195.00" x2="87.00" y2="1195.00" stroke="#444" stroke-width="1.1"/>
<line x1="80.30" y1="1171.80" x2="87.00" y2="1171.80" stroke="#444" stroke-width="1.1"/>
<rect x="477.50" y="210.28" width="14.60" height="21.12" fill="#000" stroke="none"/>
<rect x="504.75" y="203.24" width="14.60" height="28.16" fill="#000" stroke="none"/>
<rect x="532.00" y="210.28" width="14.60" height="21.12" fill="#000" stroke="none"/>
<rect x="559.25" y="217.32" width="14.60" height="14.08" fill="#000" stroke="none"/>
<rect x="586.50" y="210.28" width="14.60" height="21.12" fill="#000" stroke="none"/>
<rect x="613.75" y="203.24" width="14.60" height="28.16" fill="#000" stroke="none"/>
<line x1="471.80" y1="160.95" x2="471.80" y2="231.95" stroke="#444" stroke-width="1.1"/>
<line x1="464.40" y1="231.40" x2="634.30" y2="231.40" stroke="#222" stroke-width="1.1"/>
<line x1="464.40" y1="161.50" x2="471.80" y2="161.50" stroke="#444" stroke-width="1.1"/>
<line x1="464.40" y1="196.45" x2="471.80" y2="196.45" stroke="#444" stroke-width="1.1"/>
<rect x="477.50" y="262.22" width="14.60" height="49.28" fill="#000" stroke="none"/>
<rect x="504.75" y="255.18" width="14.60" height="56.32" fill="#000" stroke="none"/>
<rect x="532.00" y="276.30" width="14.60" height="35.20" fill="#000" stroke="none"/>
<rect x="559.25" y="269.26" width="14.60" height="42.24" fill="#000" stroke="none"/>
<rect x="586.50" y="255.18" width="14.60" height="56.32" fill="#000" stroke="none"/>
<rect x="613.75" y="269.26" width="14.60" height="42.24" fill="#000" stroke="none"/>
<line x1="471.80" y1="241.05" x2="471.80" y2="312.05" stroke="#444" stroke-width="1.1"/>
<line x1="464.40" y1="311.50" x2="634.30" y2="311.50" stroke="#222" stroke-width="1.1"/>
<line x1="464.40" y1="241.60" x2="471.80" y2="241.60" stroke="#444" stroke-width="1.1"/>
<line x1="464.40" y1="276.55" x2="471.80" y2="276.55" stroke="#444" stroke-width="1.1"/>
<rect x="477.50" y="356.40" width="14.60" height="35.20" fill="#000" stroke="none"/>
<rect x="504.75" y="370.48" width="14.60" height="21.12" fill="#000" stroke="none"/>
<rect x="532.00" y="377.52" width="14.60" height="14.08" fill="#000" stroke="none"/>
<rect x="559.25" y="370.48" width="14.60" height="21.12" fill="#000" stroke="none"/>
<rect x="586.50" y="363.44" width="14.60" height="28.16" fill="#000" stroke="none"/>
<line x1="471.80" y1="321.15" x2="471.80" y2="392.15" stroke="#444" stroke-width="1.1"/>
<line x1="464.40" y1="391.60" x2="634.30" y2="391.60" stroke="#222" stroke-width="1.1"/>
<line x1="464.40" y1="321.70" x2="471.80" y2="321.70" stroke="#444" stroke-width="1.1"/>
<line x1="464.40" y1="356.65" x2="471.80" y2="356.65" stroke="#444" stroke-width="1.1"/>
<rect x="477.50" y="457.62" width="14.60" height="14.08" fill="#000" stroke="none"/>
<rect x="504.75" y="457.62" width="14.60" height="14.08" fill="#000" stroke="none"/>
<rect x="532.00" y="450.58" width="14.60" height="21.12" fill="#000" stroke="none"/>
<rect x="559.25" y="457.62" width="14.60" height="14.08" fill="#000" stroke="none"/>
<rect x="586.50" y="443.54" width="14.60" height="28.16" fill="#000" stroke="none"/>
<rect x="613.75" y="457.62" width="14.60" height="14.08" fill="#000" stroke="none"/>
<line x1="471.80" y1="401.25" x2="471.80" y2="472.25" stroke="#444" stroke-width="1.1"/>
<line x1="464.40" y1="471.70" x2="634.30" y2="471.70" stroke="#222" stroke-width="1.1"/>
<line x1="464.40" y1="401.80" x2="471.80" y2="401.80" stroke="#444" stroke-width="1.1"/>
<line x1="464.40" y1="436.75" x2="471.80" y2="436.75" stroke="#444" stroke-width="1.1"/>
<rect x="477.50" y="544.76" width="14.60" height="7.04" fill="#000" stroke="none"/>
<rect x="532.00" y="544.76" width="14.60" height="7.04" fill="#000" stroke="none"/>
<rect x="559.25" y="544.76" width="14.60" height="7.04" fill="#000" stroke="none"/>
<rect x="586.50" y="537.72" width="14.60" height="14.08" fill="#000" stroke="none"/>
<rect x="613.75" y="544.76" width="14.60" height="7.04" fill="#000" stroke="none"/>
<line x1="471.80" y1="481.35" x2="471.80" y2="552.35" stroke="#444" stroke-width="1.1"/>
<line x1="464.40" y1="551.80" x2="634.30" y2="551.80" stroke="#222" stroke-width="1.1"/>
<line x1="464.40" y1="481.90" x2="471.80" y2="481.90" stroke="#444" stroke-width="1.1"/>
<line x1="464.40" y1="516.85" x2="471.80" y2="516.85" stroke="#444" stroke-width="1.1"/>
<rect x="504.75" y="617.82" width="14.60" height="14.08" fill="#000" stroke="none"/>
<rect x="532.00" y="624.86" width="14.60" height="7.04" fill="#000" stroke="none"/>
<rect x="559.25" y="624.86" width="14.60" height="7.04" fill="#000" stroke="none"/>
<rect x="586.50" y="610.78" width="14.60" height="21.12" fill="#000" stroke="none"/>
<rect x="613.75" y="624.86" width="14.60" height="7.04" fill="#000" stroke="none"/>
<line x1="471.80" y1="561.45" x2="471.80" y2="632.45" stroke="#444" stroke-width="1.1"/>
<line x1="464.40" y1="631.90" x2="634.30" y2="631.90" stroke="#222" stroke-width="1.1"/>
<line x1="464.40" y1="562.00" x2="471.80" y2="562.00" stroke="#444" stroke-width="1.1"/>
<line x1="464.40" y1="596.95" x2="471.80" y2="596.95" stroke="#444" stroke-width="1.1"/>
<rect x="477.50" y="697.92" width="14.60" height="14.08" fill="#000" stroke="none"/>
<rect x="504.75" y="690.88" width="14.60" height="21.12" fill="#000" stroke="none"/>
<rect x="532.00" y="704.96" width="14.60" height="7.04" fill="#000" stroke="none"/>
<rect x="559.25" y="697.92" width="14.60" height="14.08" fill="#000" stroke="none"/>
<rect x="586.50" y="697.92" width="14.60" height="14.08" fill="#000" stroke="none"/>
<rect x="613.75" y="690.88" width="14.60" height="21.12" fill="#000" stroke="none"/>
<line x1="471.80" y1="641.55" x2="471.80" y2="712.55" stroke="#444" stroke-width="1.1"/>
<line x1="464.40" y1="712.00" x2="634.30" y2="712.00" stroke="#222" stroke-width="1.1"/>
<line x1="464.40" y1="642.10" x2="471.80" y2="642.10" stroke="#444" stroke-width="1.1"/>
<line x1="464.40" y1="677.05" x2="471.80" y2="677.05" stroke="#444" stroke-width="1.1"/>
<rect x="477.50" y="770.98" width="14.60" height="21.12" fill="#000" stroke="none"/>
<rect x="504.75" y="770.98" width="14.60" height="21.12" fill="#000" stroke="none"/>
<rect x="532.00" y="778.02" width="14.60" height="14.08" fill="#000" stroke="none"/>
<rect x="559.25" y="778.02" width="14.60" height="14.08" fill="#000" stroke="none"/>
<rect x="586.50" y="763.94" width="14.60" height="28.16" fill="#000" stroke="none"/>
<rect x="613.75" y="763.94" width="14.60" height="28.16" fill="#000" stroke="none"/>
<line x1="471.80" y1="721.65" x2="471.80" y2="792.65" stroke="#444" stroke-width="1.1"/>
<line x1="464.40" y1="792.10" x2="634.30" y2="792.10" stroke="#222" stroke-width="1.1"/>
<line x1="464.40" y1="722.20" x2="471.80" y2="722.20" stroke="#444" stroke-width="1.1"/>
<line x1="464.40" y1="757.15" x2="471.80" y2="757.15" stroke="#444" stroke-width="1.1"/>
<rect x="504.75" y="865.16" width="14.60" height="7.04" fill="#000" stroke="none"/>
<rect x="532.00" y="865.16" width="14.60" height="7.04" fill="#000" stroke="none"/>
<rect x="559.25" y="858.12" width="14.60" height="14.08" fill="#000" stroke="none"/>
<rect x="586.50" y="858.12" width="14.60" height="14.08" fill="#000" stroke="none"/>
<rect x="613.75" y="851.08" width="14.60" height="21.12" fill="#000" stroke="none"/>
<line x1="471.80" y1="801.75" x2="471.80" y2="872.75" stroke="#444" stroke-width="1.1"/>
<line x1="464.40" y1="872.20" x2="634.30" y2="872.20" stroke="#222" stroke-width="1.1"/>
<line x1="464.40" y1="802.30" x2="471.80" y2="802.30" stroke="#444" stroke-width="1.1"/>
<line x1="464.40" y1="837.25" x2="471.80" y2="837.25" stroke="#444" stroke-width="1.1"/>
<rect x="559.25" y="945.26" width="14.60" height="7.04" fill="#000" stroke="none"/>
<rect x="586.50" y="938.22" width="14.60" height="14.08" fill="#000" stroke="none"/>
<rect x="613.75" y="924.14" width="14.60" height="28.16" fill="#000" stroke="none"/>
<line x1="471.80" y1="881.85" x2="471.80" y2="952.85" stroke="#444" stroke-width="1.1"/>
<line x1="464.40" y1="952.30" x2="634.30" y2="952.30" stroke="#222" stroke-width="1.1"/>
<line x1="464.40" y1="882.40" x2="471.80" y2="882.40" stroke="#444" stroke-width="1.1"/>
<line x1="464.40" y1="917.35" x2="471.80" y2="917.35" stroke="#444" stroke-width="1.1"/>
<rect x="504.75" y="1153.56" width="14.60" height="7.04" fill="#000" stroke="none"/>
<rect x="532.00" y="1146.52" width="14.60" height="14.08" fill="#000" stroke="none"/>
<rect x="559.25" y="1153.56" width="14.60" height="7.04" fill="#000" stroke="none"/>
<rect x="586.50" y="1153.56" width="14.60" height="7.04" fill="#000" stroke="none"/>
<line x1="471.80" y1="1090.15" x2="471.80" y2="1161.15" stroke="#444" stroke-width="1.1"/>
<line x1="464.40" y1="1160.60" x2="634.30" y2="1160.60" stroke="#222" stroke-width="1.1"/>
<line x1="464.40" y1="1090.70" x2="471.80" y2="1090.70" stroke="#444" stroke-width="1.1"/>
<line x1="464.40" y1="1125.65" x2="471.80" y2="1125.65" stroke="#444" stroke-width="1.1"/>
<rect x="477.50" y="1234.46" width="14.60" height="7.04" fill="#000" stroke="none"/>
<rect x="559.25" y="1227.42" width="14.60" height="14.08" fill="#000" stroke="none"/>
<rect x="613.75" y="1234.46" width="14.60" height="7.04" fill="#000" stroke="none"/>
<line x1="471.80" y1="1171.05" x2="471.80" y2="1242.05" stroke="#444" stroke-width="1.1"/>
<line x1="464.40" y1="1241.50" x2="634.30" y2="1241.50" stroke="#222" stroke-width="1.1"/>
<line x1="464.40" y1="1171.60" x2="471.80" y2="1171.60" stroke="#444" stroke-width="1.1"/>
<line x1="464.40" y1="1206.55" x2="471.80" y2="1206.55" stroke="#444" stroke-width="1.1"/>
<text transform="translate(200.40,32.10) scale(0.9945,1)" font-size="34.93">A</text>
<text transform="translate(100.54,54.90) scale(1.0168,1)" font-size="23.86" font-weight="bold" font-style="italic">Single mouse</text>
<rect x="100.90" y="58.80" width="156.70" height="3.20" fill="#000" stroke="none"/>
<text transform="translate(98.94,89.60) scale(1.0000,1)" font-size="24.49">Before exposure</text>
<text transform="translate(100.60,169.20) scale(1.0113,1)" font-size="24.20">After exposure</text>
<text transform="translate(340.11,169.00) scale(1.0418,1)" font-size="23.86">(days)</text>
<text transform="translate(541.42,113.60) scale(1.0026,1)" font-size="37.10">B</text>
<text transform="translate(485.24,144.60) scale(1.0134,1)" font-size="23.62" font-weight="bold" font-style="italic">12 mice</text>
<rect x="483.30" y="148.70" width="89.20" height="3.00" fill="#000" stroke="none"/>
<text transform="translate(484.54,1095.30) scale(1.0267,1)" font-size="23.48" font-weight="bold" font-style="italic">10 mice</text>
<rect x="482.80" y="1099.20" width="89.60" height="3.00" fill="#000" stroke="none"/>
<text transform="translate(127.95,1059.80) scale(1.0276,1)" font-size="23.77" font-weight="bold" font-style="italic">(Fig.5 in Longenecker and Galazyuk 2011)</text>
<text transform="translate(363.85,203.80) scale(1.0300,1)" font-size="23.90">1</text>
<text transform="translate(364.27,284.00) scale(1.0300,1)" font-size="23.90">7</text>
<text transform="translate(354.99,363.20) scale(1.0111,1)" font-size="23.91">14</text>
<text transform="translate(354.50,443.50) scale(1.0012,1)" font-size="23.91">21</text>
<text transform="translate(354.45,523.20) scale(1.0414,1)" font-size="23.91">28</text>
<text transform="translate(354.70,601.90) scale(1.0434,1)" font-size="23.91">35</text>
<text transform="translate(354.40,680.30) scale(1.0535,1)" font-size="23.91">42</text>
<text transform="translate(354.90,760.50) scale(1.0405,1)" font-size="23.91">49</text>
<text transform="translate(354.59,840.10) scale(1.0515,1)" font-size="23.91">56</text>
<text transform="translate(354.50,920.00) scale(1.0263,1)" font-size="23.91">84</text>
<text transform="translate(355.55,1132.80) scale(1.0300,1)" font-size="23.91">180</text>
<text transform="translate(354.81,1211.20) scale(1.0310,1)" font-size="23.91">360</text>
<text transform="translate(48.59,486.60) scale(0.9892,1)" font-size="17.68">1.5</text>
<text transform="translate(61.27,509.90) scale(1.1000,1)" font-size="17.70">1</text>
<text transform="translate(45.82,532.60) scale(1.1052,1)" font-size="17.68">0.5</text>
<text transform="translate(61.80,555.60) scale(1.1311,1)" font-size="17.68">0</text>
<text transform="translate(436.50,487.10) scale(1.0576,1)" font-size="17.68">10</text>
<text transform="translate(446.52,522.10) scale(1.1073,1)" font-size="17.68">5</text>
<text transform="translate(446.20,556.90) scale(1.1311,1)" font-size="17.68">0</text>
<text transform="translate(36.20,683.85) rotate(-90) scale(1,1.1728)" font-size="31.88">PREPULSE+Startle/Startle ratio</text>
<text transform="translate(426.00,598.53) rotate(-90) scale(1,1.0620)" font-size="31.66">Number of mice</text>
<text transform="translate(120.70,983.63) rotate(-90) scale(1,1.1966)" font-size="21.80">10</text>
<text transform="translate(162.90,1000.53) rotate(-90) scale(1,1.1286)" font-size="23.11">12.5</text>
<text transform="translate(204.30,983.64) rotate(-90) scale(1,1.1708)" font-size="21.91">16</text>
<text transform="translate(245.50,984.32) rotate(-90) scale(1,1.1303)" font-size="22.44">20</text>
<text transform="translate(287.00,984.33) rotate(-90) scale(1,1.1376)" font-size="22.55">25</text>
<text transform="translate(328.70,1001.58) rotate(-90) scale(1,1.0328)" font-size="24.56">31.5</text>
<text transform="translate(120.70,1275.43) rotate(-90) scale(1,1.1966)" font-size="21.80">10</text>
<text transform="translate(162.90,1292.33) rotate(-90) scale(1,1.1286)" font-size="23.11">12.5</text>
<text transform="translate(204.30,1275.44) rotate(-90) scale(1,1.1708)" font-size="21.91">16</text>
<text transform="translate(245.50,1276.12) rotate(-90) scale(1,1.1303)" font-size="22.44">20</text>
<text transform="translate(287.00,1276.13) rotate(-90) scale(1,1.1376)" font-size="22.55">25</text>
<text transform="translate(328.70,1293.38) rotate(-90) scale(1,1.0328)" font-size="24.56">31.5</text>
<text transform="translate(495.30,992.17) rotate(-90) scale(1,0.8206)" font-size="30.20">10</text>
<text transform="translate(523.00,1006.65) rotate(-90) scale(1,0.9821)" font-size="24.64">12.5</text>
<text transform="translate(550.30,991.64) rotate(-90) scale(1,0.8108)" font-size="29.85">16</text>
<text transform="translate(577.60,992.11) rotate(-90) scale(1,0.8028)" font-size="30.15">20</text>
<text transform="translate(604.90,992.11) rotate(-90) scale(1,0.8372)" font-size="30.29">25</text>
<text transform="translate(632.20,1006.53) rotate(-90) scale(1,0.9443)" font-size="25.63">31.5</text>
<text transform="translate(495.30,1280.17) rotate(-90) scale(1,0.8206)" font-size="30.20">10</text>
<text transform="translate(523.00,1294.65) rotate(-90) scale(1,0.9821)" font-size="24.64">12.5</text>
<text transform="translate(550.30,1279.64) rotate(-90) scale(1,0.8108)" font-size="29.85">16</text>
<text transform="translate(577.60,1280.11) rotate(-90) scale(1,0.8028)" font-size="30.15">20</text>
<text transform="translate(604.90,1280.11) rotate(-90) scale(1,0.8372)" font-size="30.29">25</text>
<text transform="translate(632.20,1294.53) rotate(-90) scale(1,0.9443)" font-size="25.63">31.5</text>
<text transform="translate(123.66,1033.00) scale(0.9982,1)" font-size="24.35">Frequency (kHz)</text>
<text transform="translate(123.66,1324.90) scale(0.9965,1)" font-size="24.35">Frequency (kHz)</text>
<text transform="translate(464.56,1034.40) scale(0.9959,1)" font-size="24.35">Frequency (kHz)</text>
<text transform="translate(464.86,1323.20) scale(0.9942,1)" font-size="24.35">Frequency (kHz)</text></svg></body></html>
